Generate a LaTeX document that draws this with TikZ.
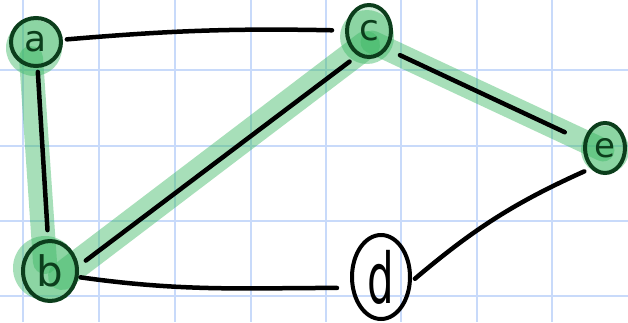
\documentclass[tikz,border=0pt]{standalone}
\usepackage{fontspec}
\setmainfont{DejaVu Sans}
\usetikzlibrary{shapes.geometric}
\definecolor{gridblue}{RGB}{200,218,250}
\definecolor{hl}{RGB}{60,185,100}
\definecolor{dkgreen}{RGB}{12,62,28}
\tikzset{
  gridline/.style={draw=gridblue,line width=2pt},
  band/.style={draw=hl,draw opacity=0.45,line width=24pt,line cap=round},
  halo/.style={fill=hl,fill opacity=0.45},
  gnode/.style={ellipse,draw=dkgreen,line width=4pt,inner sep=0pt,text=dkgreen,fill=hl,fill opacity=0.25,text opacity=1,draw opacity=1},
  bnode/.style={ellipse,draw=black,line width=4pt,inner sep=0pt,text=black},
  edge/.style={draw=black,line width=4.5pt,line cap=round},
}
\begin{document}
\begin{tikzpicture}[x=1pt,y=1pt]
\useasboundingbox (0,0) rectangle (628,-322);
\fill[white] (0,0) rectangle (628,-322);
% grid
\foreach \gx in {23,99,175,251,326,401,477,552}
  \draw[gridline] (\gx,0) -- (\gx,-322);
\foreach \gy in {70,146,221,296}
  \draw[gridline] (0,-\gy) -- (628,-\gy);
% highlight
\coordinate (ha) at (31,-58);
\coordinate (hb) at (45,-262);
\coordinate (hb2) at (62,-276);
\coordinate (hc) at (366,-45);
\coordinate (hc2) at (372,-42);
\coordinate (he) at (603,-150);
\draw[band] (ha) -- (hb);
\draw[band,line width=28pt] (hb2) -- (hc);
\draw[band,line width=23pt] (hc2) -- (he);
\fill[halo] (34,-48) circle (28);
\fill[halo] (367,-37) circle (27);
\fill[halo] (605,-150) circle (24);
\fill[halo] (45,-268) circle (32);
% nodes
\node[gnode,minimum width=50pt,minimum height=48pt,font=\fontsize{36}{36}\selectfont] (a) at (36,-42) {a};
\node[gnode,minimum width=44pt,minimum height=52pt,font=\fontsize{36}{36}\selectfont] (c) at (369,-31) {c};
\node[gnode,minimum width=40pt,minimum height=50pt,font=\fontsize{34}{34}\selectfont] (e) at (605,-148) {e};
\node[gnode,minimum width=54pt,minimum height=60pt,font=\fontsize{42}{42}\selectfont] (b) at (50,-271) {b};
\node[bnode,minimum width=58pt,minimum height=84pt,font=\fontsize{70}{70}\selectfont] (d) at (381,-277) {\scalebox{0.6}[1]{d}};
% edges
\draw[edge,shorten <=4pt,shorten >=13pt] (a) to[bend left=3] (c);
\draw[edge,shorten <=4pt,shorten >=9pt] (a) -- (b);
\draw[edge,shorten <=9pt,shorten >=10pt] (b.10) -- (c.-115);
\draw[edge,shorten <=14pt,shorten >=21pt] (c.-45) -- (e.162);
\draw[edge,shorten <=2pt,shorten >=14pt] (b.-12) to[out=-8,in=180] (d.-160);
\draw[edge,shorten <=4pt,shorten >=7pt] (d.-8) to[bend left=8] (e.-125);
\end{tikzpicture}
\end{document}
